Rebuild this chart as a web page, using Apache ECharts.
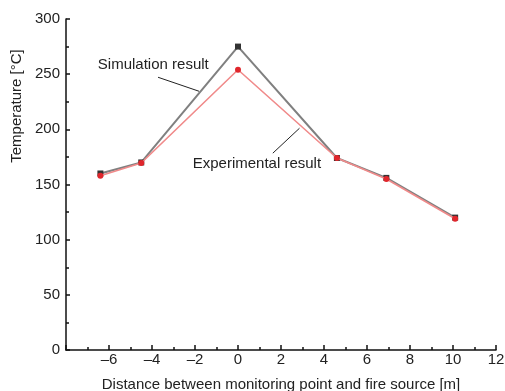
<!DOCTYPE html>
<html><head><meta charset="utf-8">
<script src="https://cdn.jsdelivr.net/npm/echarts@6/dist/echarts.min.js"></script>
<style>html,body{margin:0;padding:0;background:#fff}#c{width:505px;height:391px}</style>
</head><body><div id="c"></div>
<script>
var distance = [-6.4, -4.5, 0, 4.6, 6.9, 10.1];
var simulation = [160, 170, 275, 174, 156, 120];
var experimental = [158, 169.5, 254, 174, 155, 119];
var simLabel = {text: 'Simulation result', at: [-3.94, 258.8], leader: [[-3.72, 247.2], [-1.81, 234.5]]};
var expLabel = {text: 'Experimental result', at: [0.88, 168.4], leader: [[1.62, 178.4], [2.86, 201]]};

var font = 'Liberation Sans, Arial, Helvetica, sans-serif';
function pairs(xs, ys){ return xs.map(function(x,i){return [x, ys[i]];}); }
function fmtX(v){ if (v === -8) return ''; return String(v).replace('-', '\u2013'); }

var chart = echarts.init(document.getElementById('c'), null, {renderer:'canvas'});
chart.setOption({
  animation: false,
  backgroundColor: '#fff',
  textStyle: {fontFamily: font},
  grid: {left: 66, right: 9, top: 19, bottom: 41, containLabel: false, outerBoundsMode: 'none'},
  xAxis: {
    type: 'value', min: -8, max: 12, interval: 2,
    name: 'Distance between monitoring point and fire source [m]',
    nameLocation: 'middle', nameGap: 27,
    nameTextStyle: {fontSize: 15, color: '#222', fontFamily: font},
    axisLine: {show: true, onZero: false, lineStyle: {color: '#111', width: 1.5}},
    axisTick: {show: true, inside: true, length: 5, lineStyle: {color: '#111', width: 1.5}},
    minorTick: {show: true, splitNumber: 2, length: 3, lineStyle: {color: '#111', width: 1.5}},
    axisLabel: {fontSize: 15, color: '#222', margin: 2, formatter: fmtX, fontFamily: font},
    splitLine: {show: false}
  },
  yAxis: {
    type: 'value', min: 0, max: 300, interval: 50,
    axisLine: {show: true, onZero: false, lineStyle: {color: '#111', width: 1.5}},
    axisTick: {show: true, inside: true, length: 4, lineStyle: {color: '#111', width: 1.5}},
    minorTick: {show: true, splitNumber: 2, length: 3, lineStyle: {color: '#111', width: 1.5}},
    axisLabel: {fontSize: 15, color: '#222', margin: 6, fontFamily: font},
    splitLine: {show: false}
  },
  series: [
    {
      name: 'Simulation result', type: 'line', data: pairs(distance, simulation),
      symbol: 'rect', symbolSize: 6, showSymbol: true,
      lineStyle: {color: '#808080', width: 2},
      itemStyle: {color: '#333'},
      z: 2,
      markLine: {
        silent: true, symbol: 'none', label: {show: false},
        lineStyle: {color: '#222', width: 1, type: 'solid'},
        data: [
          [{coord: simLabel.leader[0]}, {coord: simLabel.leader[1]}],
          [{coord: expLabel.leader[0]}, {coord: expLabel.leader[1]}]
        ]
      }
    },
    {
      name: 'Experimental result', type: 'line', data: pairs(distance, experimental),
      symbol: 'circle', symbolSize: 6, showSymbol: true,
      lineStyle: {color: '#f08a8a', width: 1.6},
      itemStyle: {color: '#e0262c'},
      z: 3
    }
  ]
});

function place(lbl){
  var p = chart.convertToPixel({gridIndex: 0}, lbl.at);
  return {type: 'text', x: p[0], y: p[1], silent: true,
    style: {text: lbl.text, fontSize: 15, fontFamily: font, fill: '#222', align: 'center', verticalAlign: 'middle'}};
}
chart.setOption({
  graphic: [
    place(simLabel), place(expLabel),
    {type: 'text', x: 17, y: 106, rotation: Math.PI / 2, silent: true,
     style: {text: 'Temperature [\u00B0C]', fontSize: 15, fontFamily: font, fill: '#222', align: 'center', verticalAlign: 'middle'}}
  ]
});
</script>
</body></html>
